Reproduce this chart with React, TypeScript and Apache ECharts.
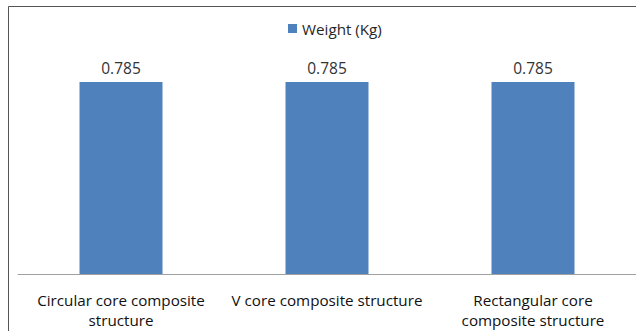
import React, { useEffect, useRef } from "react";
import * as echarts from "echarts";

const categories = [
  "Circular core composite\nstructure",
  "V core composite structure",
  "Rectangular core\ncomposite structure",
];
const seriesName = "Weight (Kg)";
const weights = [0.785, 0.785, 0.785];

const FONT = "'Open Sans', 'Noto Sans', sans-serif";

export default function App() {
  const ref = useRef<HTMLDivElement>(null);

  useEffect(() => {
    if (!ref.current) return;
    const chart = echarts.init(ref.current, null, { renderer: "svg" });
    chart.setOption({
      animation: false,
      backgroundColor: "#ffffff",
      textStyle: { fontFamily: FONT },
      legend: {
        top: 16,
        left: 283,
        icon: "rect",
        itemWidth: 9,
        itemHeight: 9,
        itemGap: 4,
        textStyle: { fontFamily: FONT, fontSize: 15.2, color: "#262626", padding: [0, 0, 0, 0] },
        data: [seriesName],
      },
      grid: { left: 18, right: 0, top: 54, bottom: 57, containLabel: false },
      xAxis: {
        type: "category",
        data: categories,
        axisLine: { lineStyle: { color: "#a0a0a0", width: 1 } },
        axisTick: { show: false },
        axisLabel: {
          interval: 0,
          margin: 16,
          fontFamily: FONT,
          fontSize: 15.2,
          lineHeight: 20,
          color: "#111111",
        },
      },
      yAxis: {
        type: "value",
        min: 0,
        max: 0.9,
        show: false,
        splitLine: { show: false },
      },
      series: [
        {
          name: seriesName,
          type: "bar",
          data: weights,
          barWidth: 83,
          itemStyle: { color: "#4f81bd" },
          label: {
            show: true,
            position: "top",
            distance: 6,
            fontFamily: FONT,
            fontSize: 15.5,
            color: "#333333",
            formatter: (p: any) => p.value.toFixed(3),
          },
        },
      ],
      graphic: [
        {
          type: "polyline",
          silent: true,
          shape: { points: [[8.5, 340], [8.5, 6.5], [640, 6.5]] },
          style: { stroke: "#555555", lineWidth: 1, fill: null },
        },
      ],
    });
    return () => chart.dispose();
  }, []);

  return (
    <div
      ref={ref}
      style={{ position: "fixed", left: 0, top: 0, width: 636, height: 331 }}
    />
  );
}
